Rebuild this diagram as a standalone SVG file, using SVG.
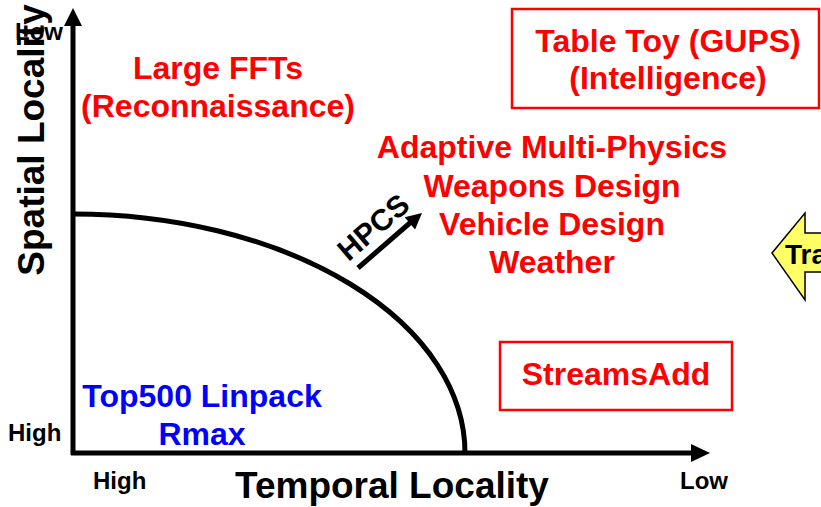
<svg xmlns="http://www.w3.org/2000/svg" width="821" height="507" viewBox="0 0 821 507">
<style>
text{font-family:"Liberation Sans",Arial,sans-serif;font-weight:bold}
.red{fill:#FF0000;font-size:32px;text-anchor:middle}
.blue{fill:#0000FF;font-size:32px;text-anchor:middle}
.tick{fill:#000;font-size:24px}
.axis-title{fill:#000;font-size:37px;text-anchor:middle}
.box{fill:none;stroke:#FF0000;stroke-width:2.5}
.ax{stroke:#000;stroke-width:5;fill:none}
</style>
<rect width="821" height="507" fill="#fff"/>
<g id="connectors">
  <line class="ax" x1="73" y1="455" x2="73" y2="22"/>
  <polygon points="73,8 64,26 82,26" fill="#000"/>
  <line class="ax" x1="71" y1="453" x2="694" y2="453"/>
  <polygon points="710,453 691,444 691,462" fill="#000"/>
  <path class="ax" d="M73,214 A392,239 0 0 1 465,453"/>
  <line class="ax" x1="358" y1="268" x2="411" y2="222"/>
  <polygon points="422,213 415.1,229.5 404.7,217.3" fill="#000"/>
</g>
<g id="axis-labels">
  <text class="axis-title" transform="translate(44,140) rotate(-90)">Spatial Locality</text>
  <text class="axis-title" x="392" y="498">Temporal Locality</text>
  <text class="tick" x="15" y="40">Low</text>
  <text class="tick" x="8" y="441">High</text>
  <text class="tick" x="93" y="489">High</text>
  <text class="tick" x="680" y="489">Low</text>
</g>
<g id="hpcs">
  <text transform="translate(380,235) rotate(-40.7)" style="font-size:30px;text-anchor:middle;fill:#000">HPCS</text>
</g>
<g id="large-ffts">
  <text class="red" x="218" y="79">Large FFTs</text>
  <text class="red" x="218" y="117">(Reconnaissance)</text>
</g>
<g id="table-toy">
  <rect class="box" x="512" y="9" width="307" height="99"/>
  <text class="red" x="668" y="52">Table Toy (GUPS)</text>
  <text class="red" x="668" y="89">(Intelligence)</text>
</g>
<g id="apps">
  <text class="red" x="552" y="158">Adaptive Multi-Physics</text>
  <text class="red" x="552" y="197">Weapons Design</text>
  <text class="red" x="552" y="235">Vehicle Design</text>
  <text class="red" x="552" y="273">Weather</text>
</g>
<g id="streams">
  <rect class="box" x="500" y="342" width="232" height="68"/>
  <text class="red" x="616" y="385">StreamsAdd</text>
</g>
<g id="top500">
  <text class="blue" x="202" y="407">Top500 Linpack</text>
  <text class="blue" x="202" y="445">Rmax</text>
</g>
<g id="tra-arrow">
  <polygon points="772,253 805,213 805,233 830,233 830,272 805,272 805,300" fill="#FFFF66" stroke="#000" stroke-width="1.5"/>
  <text x="785" y="264" style="font-size:28px;fill:#000">Tra</text>
</g>
</svg>
